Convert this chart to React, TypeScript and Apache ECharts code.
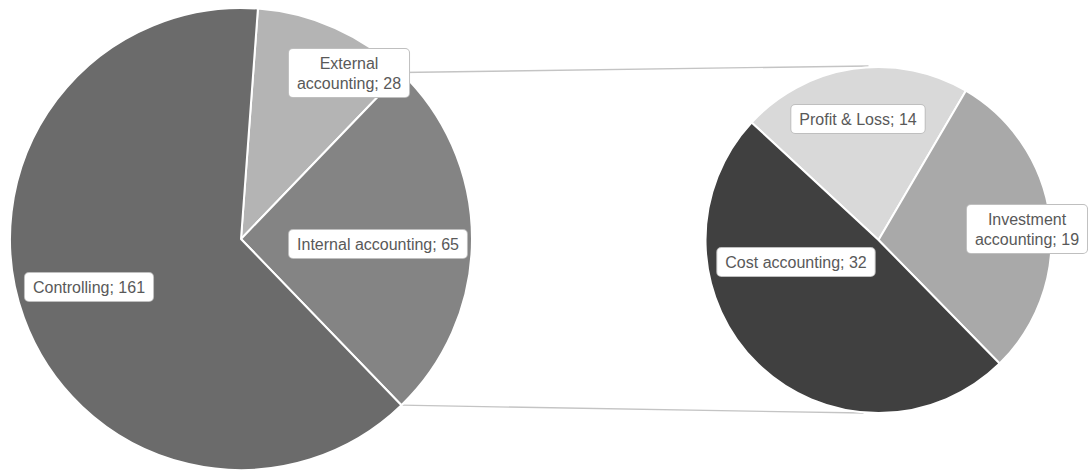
import React, { useEffect, useRef } from "react";
import * as echarts from "echarts";

// Main pie
const mainCategories = ["External accounting", "Internal accounting", "Controlling"];
const mainValues = [28, 65, 161];
const mainWrap = [true, false, false];

// Breakdown pie (of "Internal accounting")
const subCategories = ["Profit & Loss", "Investment accounting", "Cost accounting"];
const subValues = [14, 19, 32];
const subWrap = [false, true, false];

const mainColors = ["#b4b4b4", "#848484", "#6b6b6b"];
const subColors = ["#d9d9d9", "#a9a9a9", "#404040"];

// layout
const MAIN_C = [241, 239];
const MAIN_R = 231;
const SUB_C = [878.5, 240];
const SUB_R = 173;
const mainLabelPos = [
  [349, 73],
  [378, 244],
  [89, 287],
];
const subLabelPos = [
  [858, 119],
  [1027, 229],
  [796, 262],
];

function fmtLabel(name: string, value: number, wrap: boolean) {
  const n = wrap ? name.replace(" ", "\n") : name;
  return `${n}; ${value}`;
}

const labelStyle = {
  show: true,
  position: "inside" as const,
  color: "#595959",
  fontFamily: "Liberation Sans, Arial, sans-serif",
  fontSize: 16,
  lineHeight: 20,
  backgroundColor: "#ffffff",
  borderColor: "#bfbfbf",
  borderWidth: 1,
  borderRadius: 4,
  padding: [4, 8, 4, 8],
  align: "center" as const,
};

export default function App() {
  const ref = useRef<HTMLDivElement>(null);
  useEffect(() => {
    if (!ref.current) return;
    const chart = echarts.init(ref.current, undefined, { renderer: "svg" });

    const mainTotal = mainValues.reduce((a, b) => a + b, 0);
    // main pie: boundary between Controlling and External at ~4.2deg clockwise from top
    const mainStartCw = 4.2;
    const mainStart = 90 - mainStartCw;
    // sub pie: Profit & Loss starts at ~312.8deg clockwise from top
    const subStartCw = 312.8;
    const subStart = 90 - subStartCw + 360;

    // connector lines from the "Internal accounting" slice edges
    const degToPt = (c: number[], r: number, cw: number) => {
      const a = (cw * Math.PI) / 180;
      return [c[0] + r * Math.sin(a), c[1] - r * Math.cos(a)];
    };
    const intStartCw = mainStartCw + (mainValues[0] / mainTotal) * 360;
    const intEndCw = intStartCw + (mainValues[1] / mainTotal) * 360;
    const p1 = degToPt(MAIN_C, MAIN_R, intStartCw);
    const p2 = degToPt(MAIN_C, MAIN_R, intEndCw);

    chart.setOption({
      animation: false,
      backgroundColor: "#ffffff",
      graphic: [
        {
          type: "line",
          z: 0,
          shape: { x1: p1[0], y1: p1[1], x2: SUB_C[0] - 10, y2: SUB_C[1] - SUB_R - 1 },
          style: { stroke: "#c4c4c4", lineWidth: 1.3 },
        },
        {
          type: "line",
          z: 0,
          shape: { x1: p2[0], y1: p2[1], x2: SUB_C[0] - 15, y2: SUB_C[1] + SUB_R },
          style: { stroke: "#c4c4c4", lineWidth: 1.3 },
        },
      ],
      series: [
        {
          type: "pie",
          z: 2,
          center: MAIN_C,
          radius: MAIN_R,
          startAngle: mainStart,
          clockwise: true,
          avoidLabelOverlap: false,
          itemStyle: { borderColor: "#ffffff", borderWidth: 2 },
          emphasis: { disabled: true },
          labelLine: { show: false },
          label: {
            ...labelStyle,
            formatter: (p: any) => fmtLabel(p.name, p.value, mainWrap[p.dataIndex]),
          },
          labelLayout: (p: any) => ({
            x: mainLabelPos[p.dataIndex][0],
            y: mainLabelPos[p.dataIndex][1],
            align: "center",
            verticalAlign: "middle",
          }),
          data: mainCategories.map((n, i) => ({
            name: n,
            value: mainValues[i],
            itemStyle: { color: mainColors[i] },
          })),
        },
        {
          type: "pie",
          z: 2,
          center: SUB_C,
          radius: SUB_R,
          startAngle: subStart,
          clockwise: true,
          avoidLabelOverlap: false,
          itemStyle: { borderColor: "#ffffff", borderWidth: 2 },
          emphasis: { disabled: true },
          labelLine: { show: false },
          label: {
            ...labelStyle,
            formatter: (p: any) => fmtLabel(p.name, p.value, subWrap[p.dataIndex]),
          },
          labelLayout: (p: any) => ({
            x: subLabelPos[p.dataIndex][0],
            y: subLabelPos[p.dataIndex][1],
            align: "center",
            verticalAlign: "middle",
          }),
          data: subCategories.map((n, i) => ({
            name: n,
            value: subValues[i],
            itemStyle: { color: subColors[i] },
          })),
        },
      ],
    });
    return () => chart.dispose();
  }, []);
  return (
    <div
      ref={ref}
      style={{ position: "fixed", left: 0, top: 0, width: 1088, height: 470 }}
    />
  );
}
